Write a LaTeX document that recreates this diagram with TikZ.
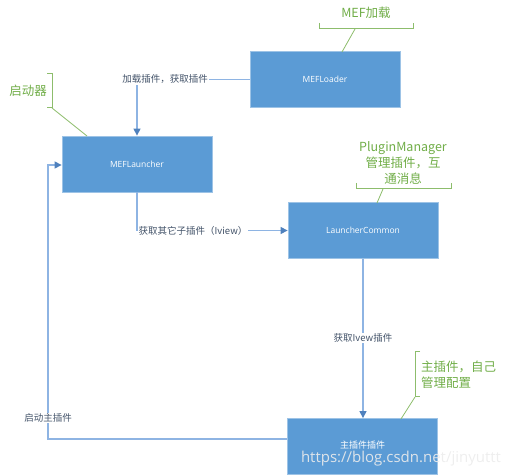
\documentclass[tikz,border=0pt]{standalone}
\usepackage{fontspec}
\setmainfont{Noto Sans CJK SC}
\newfontfamily\latinf{Open Sans}
\usetikzlibrary{arrows.meta,calc}
\definecolor{boxblue}{HTML}{5B9BD5}
\definecolor{boxedge}{HTML}{9DC3E6}
\definecolor{linkblue}{HTML}{8EB4E3}
\definecolor{arrblue}{HTML}{4F81BD}
\definecolor{labtxt}{HTML}{44546A}
\definecolor{callgreen}{HTML}{70AD47}
\begin{document}
\begin{tikzpicture}[x=1pt,y=-1pt,
  stepbox/.style={draw=boxedge,line width=0.8pt,fill=boxblue,minimum width=150pt,minimum height=56pt,inner sep=0pt,text=white,font=\latinf\fontsize{8.5}{10}\selectfont},
  link/.style={draw=linkblue,line width=1.2pt,-{Triangle[length=7pt,width=7pt,color=arrblue]}},
  lab/.style={fill=white,inner sep=1pt,text=labtxt,font=\fontsize{9.5}{11}\selectfont},
  callout/.style={text=callgreen,font=\fontsize{12.5}{16}\selectfont,align=center,inner sep=0pt},
  bracket/.style={draw=callgreen!80,line width=1pt},
  leader/.style={draw=callgreen!80,line width=0.8pt}
]
\useasboundingbox (0,0) rectangle (507,476);
% boxes
\node[stepbox] (loader) at (325,79.5) {MEFLoader};
\node[stepbox] (launcher) at (137,164) {MEFLauncher};
\node[stepbox] (common) at (363,230.5) {LauncherCommon};
\node[stepbox,font=\rmfamily\fontsize{9}{10}\selectfont,text depth=0pt] (main) at (362.5,446.5) {\raisebox{3pt}{主插件插件}};
% connectors
\coordinate (c1) at (137,79.5);
\draw[link] (loader.west) -- (c1) -- (launcher.north);
\node[lab] (l1) at (165,79.5) {加载插件，获取插件};
\coordinate (c2) at (137,230.5);
\draw[link] (launcher.south) -- (c2) -- (common.west);
\node[lab] (l2) at (193,230.5) {获取其它子插件（Iview）};
\draw[link] (common.south) -- (main.north -| common.south);
\node[lab] (l3) at (363,338) {获取Ivew插件};
\coordinate (c3) at (48,439);
\coordinate (c4) at (48,165);
\draw[link] (main.west |- c3) -- (c3) -- (c4) -- (launcher.west |- c4);
\node[lab] (l4) at (48,418) {启动主插件};
% callouts
\node[callout] (t1) at (366,13) {MEF加载};
\coordinate (b1a) at (319,23); \coordinate (b1b) at (413,23);
\draw[bracket] (b1a) -- ++(0,6) -- ($(b1b)+(0,6)$) -- (b1b);
\coordinate (b1m) at (355,29);
\coordinate (b1e) at (342,52);
\draw[leader] (b1m) -- (b1e);
\node[callout] (t2) at (28,91) {启动器};
\coordinate (b2a) at (47,74); \coordinate (b2b) at (47,108);
\draw[bracket] (b2a) -- ++(5,0) -- ($(b2b)+(5,0)$) -- (b2b);
\coordinate (b2m) at (52,108);
\coordinate (b2e) at (87,136);
\draw[leader] (b2m) -- (b2e);
\node[callout] (t3) at (403,163) {PluginManager\\管理插件，互\\通消息};
\coordinate (b3a) at (356,183); \coordinate (b3b) at (451,183);
\draw[bracket] (b3a) -- ++(0,6) -- ($(b3b)+(0,6)$) -- (b3b);
\coordinate (b3m) at (383,189);
\coordinate (b3e) at (377,203);
\draw[leader] (b3m) -- (b3e);
\node[callout,align=left,anchor=west] (t4) at (421,375) {主插件，自己\\管理配置};
\coordinate (b4a) at (420,352); \coordinate (b4b) at (420,397);
\draw[bracket] (b4a) -- ++(-5,0) -- ($(b4b)+(-5,0)$) -- (b4b);
\coordinate (b4m) at (415,397);
\coordinate (b4e) at (401,419);
\draw[leader] (b4m) -- (b4e);
% watermark
\node[text=white!85!gray,font=\fontsize{15}{18}\selectfont\latinf,inner sep=0pt,opacity=0.9] (wm) at (401,459) {https://blog.csdn.net/jinyuttt};
\end{tikzpicture}
\end{document}
